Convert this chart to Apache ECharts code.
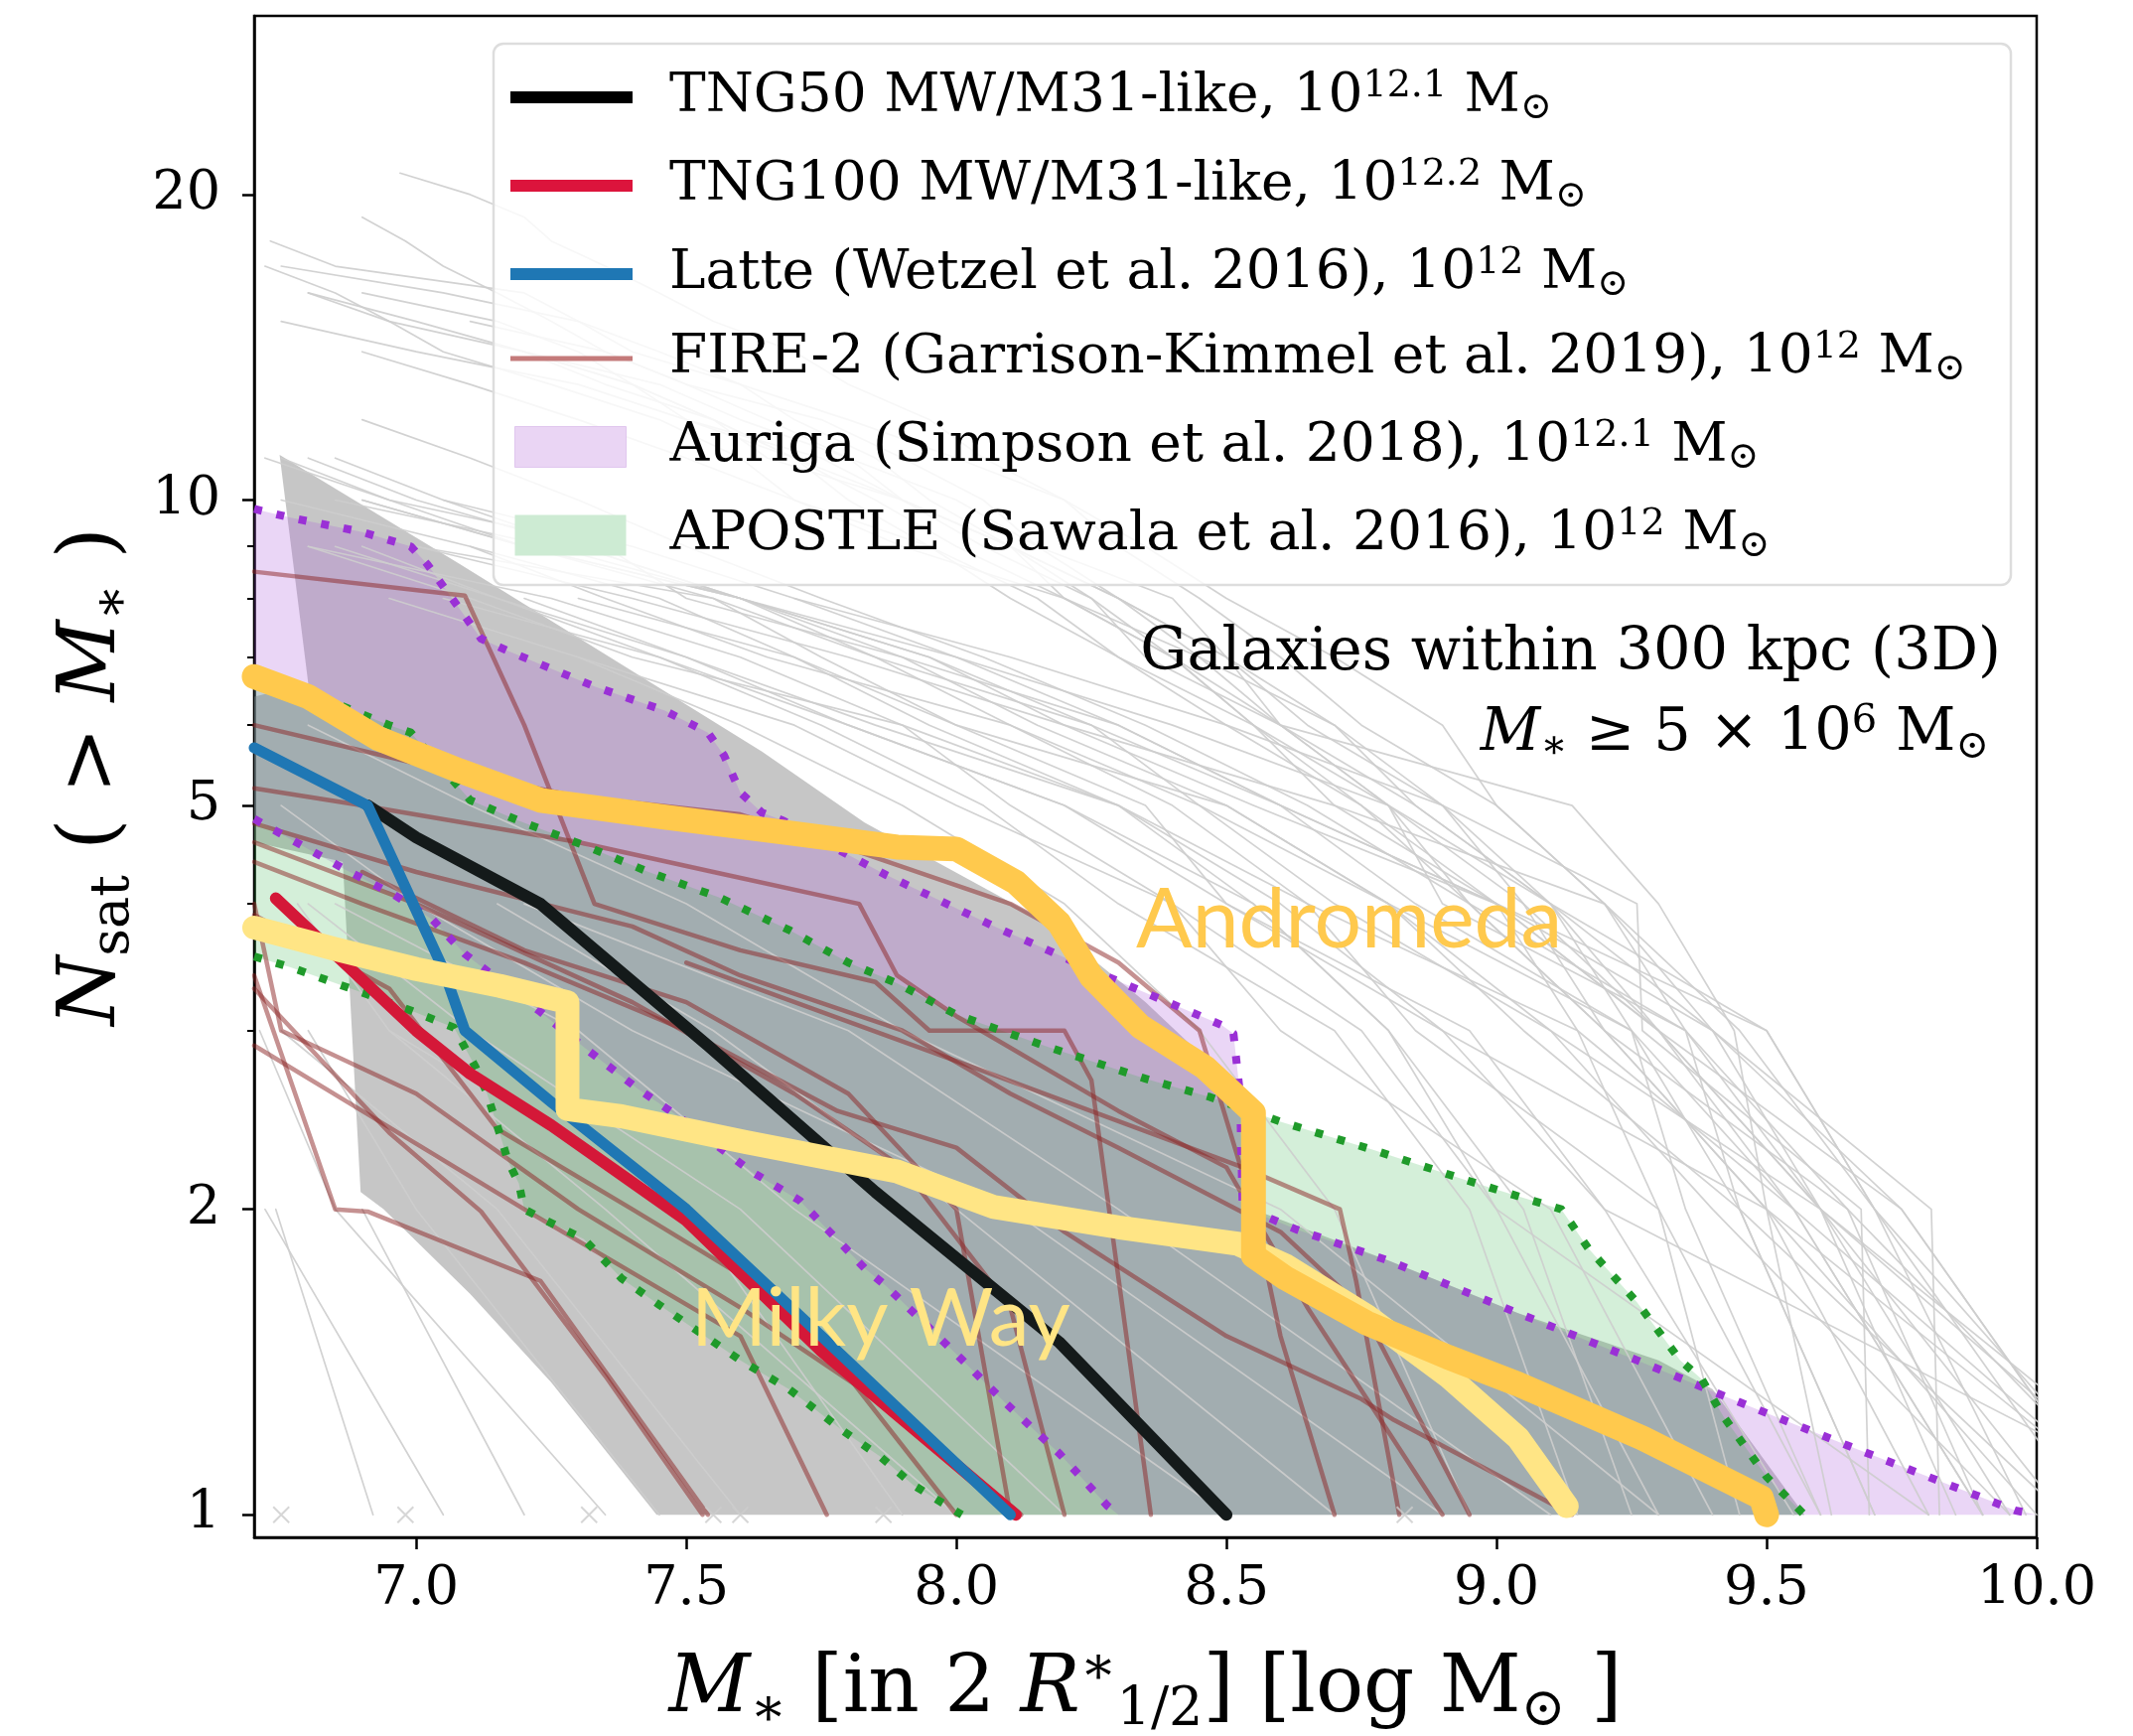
<!DOCTYPE html>
<html><head><meta charset="utf-8">
<script src="https://cdn.jsdelivr.net/npm/echarts@6/dist/echarts.min.js"></script>
<style>html,body{margin:0;padding:0;background:#fff}#c{width:2148px;height:1748px}</style>
</head><body><div id="c"></div>
<script>
// ---------------- DATA (x = log stellar mass, N = cumulative number) ----------------
const xTicks = [7.0, 7.5, 8.0, 8.5, 9.0, 9.5, 10.0];
const yTicks = [1, 2, 5, 10, 20];
const yMinorTicks = [3, 4, 6, 7, 8, 9];

const tng50Median  = [[6.91,5.0],[7.0,4.65],[7.23,4.0],[7.54,2.9],[7.85,2.08],[8.19,1.48],[8.5,1.0]];
const tng100Median = [[6.74,4.05],[7.0,3.0],[7.1,2.72],[7.25,2.42],[7.5,1.95],[7.75,1.45],[8.11,1.0]];
const latteMedian  = [[6.7,5.7],[6.91,5.0],[7.05,3.45],[7.09,3.0],[7.25,2.55],[7.5,2.0],[7.75,1.5],[8.1,1.0]];

const tng50BandUpper = [[6.747,11.08],[7.08,8.65],[7.64,5.65],[7.83,4.81],[8.17,3.83],[8.35,3.2],[8.52,2.63],[8.55,2.0],[8.8,1.78],[9.04,1.58],[9.3,1.42],[9.4,1.33],[9.57,1.0]];
const tng50BandLower = [[6.747,11.08],[6.8,6.6],[6.7,6.4],[6.7,4.6],[6.864,4.4],[6.897,2.08],[6.94,2.0],[7.1,1.65],[7.25,1.35],[7.445,1.0]];

const aurigaUpper = [[6.7,9.8],[6.77,9.6],[6.9,9.3],[6.99,9.0],[7.02,8.65],[7.07,7.95],[7.12,7.3],[7.17,7.1],[7.33,6.55],[7.46,6.2],[7.54,5.9],[7.57,5.6],[7.6,5.15],[7.64,4.92],[7.68,4.83],[7.87,4.27],[8.07,3.8],[8.28,3.39],[8.49,3.04],[8.513,2.98],[8.525,2.6],[8.53,2.0],[8.58,1.96],[8.63,1.91],[8.8,1.78],[9.04,1.58],[9.26,1.42],[9.42,1.31],[9.65,1.17],[9.96,1.01],[10.0,1.0]];
const aurigaLower = [[6.7,4.85],[6.8,4.53],[6.87,4.32],[6.96,4.08],[7.03,3.86],[7.09,3.57],[7.23,3.13],[7.31,2.89],[7.41,2.63],[7.48,2.48],[7.62,2.18],[7.71,2.04],[7.83,1.75],[7.87,1.68],[8.0,1.44],[8.09,1.29],[8.19,1.15],[8.28,1.02],[8.3,1.0]];

const apostleUpper = [[6.7,6.6],[6.81,6.43],[6.95,6.0],[6.99,5.9],[7.1,5.06],[7.19,4.83],[7.31,4.57],[7.43,4.3],[7.56,4.06],[7.69,3.77],[7.8,3.5],[7.89,3.34],[8.0,3.11],[8.17,2.89],[8.35,2.69],[8.47,2.58],[8.6,2.44],[8.77,2.29],[8.94,2.14],[9.04,2.06],[9.12,2.0],[9.17,1.83],[9.26,1.62],[9.34,1.42],[9.38,1.36],[9.42,1.25],[9.5,1.09],[9.57,1.0]];
const apostleLower = [[6.7,3.55],[6.77,3.46],[6.9,3.27],[6.99,3.14],[7.07,3.02],[7.11,2.76],[7.13,2.61],[7.155,2.37],[7.17,2.23],[7.19,2.12],[7.2,2.0],[7.24,1.95],[7.31,1.87],[7.38,1.71],[7.45,1.61],[7.6,1.42],[7.69,1.33],[7.79,1.21],[7.86,1.14],[7.92,1.07],[8.01,1.0]];

const andromedaObs = [[6.7,6.7],[6.8,6.4],[6.93,5.82],[7.08,5.41],[7.23,5.06],[7.46,4.87],[7.69,4.7],[7.89,4.55],[8.0,4.53],[8.11,4.2],[8.19,3.83],[8.25,3.39],[8.34,3.03],[8.46,2.76],[8.55,2.49],[8.55,1.8],[8.61,1.71],[8.76,1.545],[8.91,1.43],[9.04,1.345],[9.27,1.19],[9.49,1.04],[9.5,1.0]];
const milkyWayObs = [[6.7,3.79],[6.85,3.61],[7.0,3.45],[7.155,3.32],[7.28,3.2],[7.28,2.51],[7.38,2.47],[7.61,2.33],[7.89,2.18],[8.07,2.01],[8.3,1.92],[8.52,1.85],[8.61,1.76],[8.76,1.57],[8.91,1.37],[9.04,1.19],[9.13,1.02]];

// each TNG50 host: satellite masses, most massive first (N = rank)
const tng50HostSatMasses = [
  [10.2,9.7,9.45,9.2,9.0,8.75,8.6,8.45,8.3,8.2,8.05,7.95,7.8,7.7,7.55,7.45,7.35,7.25,7.2,7.1,6.97],
  [9.9,9.55,9.3,9.05,8.8,8.6,8.5,8.3,8.1,7.95,7.85,7.7,7.6,7.45,7.3,7.2,6.85,6.73],
  [10.3,9.6,9.35,9.2,9.0,8.9,8.7,8.5,8.35,8.2,8.0,7.8,7.6,7.4,7.3,7.05,6.75],
  [9.8,9.5,9.2,8.95,8.8,8.55,8.4,8.2,8.0,7.85,7.7,7.55,7.4,7.3,7.15,6.9],
  [10.15,9.75,9.3,9.1,8.85,8.7,8.45,8.3,8.15,8.05,7.9,7.75,7.5,7.35,7.1],
  [9.6,9.3,9.15,9.0,8.7,8.55,8.4,8.25,8.1,7.9,7.7,7.55,7.35,7.2,7.0,6.8],
  [10.05,9.45,9.35,8.9,8.8,8.6,8.35,8.25,8.05,7.9,7.8,7.6,7.45,7.2],
  [9.95,9.6,9.4,9.1,8.9,8.65,8.5,8.3,8.1,7.9,7.75,7.5,7.3,7.0,6.75],
  [10.1,9.7,9.5,9.0,8.75,8.5,8.3,8.15,7.95,7.8,7.7,7.5,7.4,7.2,6.95,6.8],
  [9.7,9.45,9.25,9.1,8.85,8.6,8.45,8.2,8.1,7.9,7.65,7.55,7.4,7.2],
  [10.2,9.5,9.2,8.95,8.75,8.55,8.3,8.1,7.95,7.7,7.6,7.45,7.25,7.05,6.95,6.85,6.72],
  [9.9,9.65,9.2,9.05,8.9,8.7,8.5,8.4,8.15,8.0,7.8,7.65,7.5,7.35,7.25,7.15,7.05,6.98,6.9],
  [9.62,9.5,9.44,9.3,9.14,8.6,8.4,8.2,7.9,7.7,7.5,7.3,7.1,6.9],
  [10.05,9.6,9.3,9.0,8.6,8.3,8.0,7.6,7.3,7.0,6.8],
  [9.45,9.3,8.85,8.65,8.4,8.1,7.85,7.55,7.2,6.9],
  [10.3,9.2,8.9,8.5,8.35,8.0,7.7,7.45,7.1],
  [9.85,9.6,9.1,8.8,8.5,8.15,7.9,7.5,7.35,6.95,6.75],
  [9.55,9.2,8.95,8.5,8.2,7.8,7.5,7.2],
  [10.15,9.75,9.4,9.2,8.7,8.2,7.95,7.6,7.25,6.85],
  [9.3,9.0,8.75,8.4,8.1,7.9,7.4,7.1,6.8],
  [10.0,9.5,8.9,8.6,8.3,7.95,7.7,7.3],
  [9.7,9.45,9.05,8.8,8.45,8.25,7.85,7.6,7.3,7.05,6.85],
  [10.25,9.6,9.3,9.0,8.55,8.2,7.8,7.4,7.0],
  [9.15,8.95,8.7,8.3,8.05,7.75,7.45,7.15,6.9],
  [9.95,9.4,9.1,8.7,8.45,8.1,7.65,7.35,7.1,6.75],
  [9.4,9.1,8.6,8.4,8.0,7.7,7.3,6.95],
  [10.2,9.65,9.35,8.95,8.65,8.35,8.05,7.75,7.5,7.3,7.1,6.9],
  [9.6,9.35,9.25,8.8,8.5,8.0,7.75,7.55,7.0],
  [9.8,9.0,8.8,8.55,8.3,7.9,7.6,7.25,6.8],
  [10.2,9.55,9.25,8.85,8.6,8.25,7.95,7.6,7.2,6.95,6.72],
  [9.25,9.05,8.8,8.55,8.2,7.8,7.45,7.05],
  [9.9,9.55,9.15,8.65,8.3,7.85,7.5,7.15,6.85],
  [8.95,8.7,8.45,8.2,7.9,7.6,7.3],
  [9.69,9.675,9.27,9.26,8.9,8.5,8.1,7.7,7.4,7.05],
  [9.82,9.805,9.4,9.0,8.6,8.3,7.9,7.6,7.2,6.9],
  [9.98,9.7,9.5,9.1,8.8,8.4,8.0,7.7],
  [8.2,7.6,7.1,6.8],
  [7.9,7.5,6.95],
  [8.9,8.1,7.4,7.0,6.75],
  [7.45,7.0,6.8],
  [9.1,8.3,7.8,7.2],
  [7.2,6.9],
  [8.5,7.7,7.3,6.85],
  [7.6,7.15,6.75],
  [9.3,8.6,7.9,7.5,7.1,6.8],
  [7.05,6.72],
  [8.0,7.35,6.95,6.78],
  [8.7,8.0,7.55,7.15],
  [7.35,6.85,6.71],
  [6.92,6.74]
];
const tng50SingleSatMasses = [6.75, 6.98, 7.32, 7.55, 7.6, 7.865, 8.83];

const fire2Curves = [
  [[6.7,8.5],[7.09,8.05],[7.2,6.0],[7.33,4.0],[7.6,3.6],[7.85,3.35],[7.95,3.0],[8.2,3.0],[8.25,2.68],[8.36,1.0]],
  [[6.7,5.2],[6.9,5.0],[7.3,4.6],[7.55,4.3],[7.82,4.0],[7.89,3.4],[8.0,3.1],[8.3,2.5],[8.5,2.2],[8.65,1.6],[8.9,1.0]],
  [[6.7,4.8],[7.0,4.3],[7.4,3.8],[7.6,3.4],[7.9,3.0],[8.1,2.6],[8.3,2.3],[8.6,1.9],[8.75,1.6],[8.95,1.0]],
  [[6.7,4.4],[6.9,4.0],[7.2,3.5],[7.5,3.0],[7.78,2.5],[8.0,2.3],[8.2,1.9],[8.5,1.5],[8.75,1.3],[8.81,1.24],[9.14,1.0]],
  [[6.7,3.4],[6.85,2.0],[6.91,1.99],[7.23,1.7],[7.54,1.0]],
  [[6.7,3.3],[6.95,2.38],[7.12,1.99],[7.35,1.37],[7.53,1.0]],
  [[6.7,4.0],[6.75,3.0],[7.0,2.6],[7.3,2.0],[7.6,1.6],[7.9,1.25],[8.12,1.0]],
  [[6.7,2.9],[6.9,2.5],[7.2,2.0],[7.6,1.5],[7.76,1.0]],
  [[6.7,4.6],[7.0,4.0],[7.4,3.2],[7.7,2.6],[7.9,2.2],[8.1,1.6],[8.2,1.0]],
  [[6.7,6.0],[7.0,5.5],[7.3,5.1],[7.6,4.9],[7.82,4.5],[8.1,4.0],[8.3,3.5],[8.45,3.0],[8.55,2.0],[8.6,1.5],[8.7,1.0]],
  [[6.9,4.3],[7.2,3.6],[7.5,3.2],[7.8,2.6],[8.0,2.0],[8.1,1.0]],
  [[6.7,3.9],[6.95,3.3],[7.15,2.4],[7.4,2.0],[7.7,1.6],[8.0,1.0]],
  [[7.5,3.5],[8.0,2.8],[8.53,2.2],[8.71,2.0],[8.74,1.7],[8.82,1.0]]
];

// ---------------- BUILD ----------------
const lg = v => Math.log10(v);
const toXY = pts => pts.map(p => [p[0], lg(p[1])]);
const SERIF = 'DejaVu Serif';

function lineSeries(name, pts, color, width, z, lineType) {
  return {
    type: 'line', name: name, data: toXY(pts), showSymbol: false, symbol: 'none', z: z,
    lineStyle: { color: color, width: width, cap: lineType ? 'butt' : 'round', join: 'round', type: lineType || 'solid' },
    itemStyle: { color: color }, silent: true, animation: false, clip: true
  };
}
function polySeries(name, upper, lower, fill, z) {
  const pts = upper.concat(lower.slice().reverse());
  return {
    type: 'custom', name: name, z: z, silent: true, animation: false, clip: true,
    coordinateSystem: 'cartesian2d', itemStyle: { color: fill },
    data: [[pts[0][0], lg(pts[0][1])]],
    renderItem: function (params, api) {
      return { type: 'polygon', shape: { points: pts.map(p => api.coord([p[0], lg(p[1])])) }, style: { fill: fill } };
    }
  };
}

const series = [];
series.push(polySeries('TNG50band', tng50BandUpper, tng50BandLower, 'rgba(128,128,128,0.45)', 1));
series.push(polySeries('Auriga', aurigaUpper, aurigaLower, 'rgba(170,90,220,0.25)', 1));
series.push(polySeries('APOSTLE', apostleUpper, apostleLower, 'rgba(60,180,80,0.22)', 1));

tng50HostSatMasses.forEach((masses, i) => {
  series.push(lineSeries('host' + i, masses.map((m, k) => [m, k + 1]), 'rgba(205,205,205,0.9)', 1.7, 2));
});
series.push({
  type: 'scatter', name: 'single', z: 2, silent: true, animation: false,
  data: tng50SingleSatMasses.map(m => [m, lg(1)]),
  symbol: 'path://M0,0L10,10M10,0L0,10', symbolSize: 16,
  itemStyle: { color: 'none', borderColor: '#cccccc', borderWidth: 2 }
});
fire2Curves.forEach(c => series.push(lineSeries('FIRE-2', c, 'rgba(140,35,35,0.5)', 4.5, 2)));

series.push(lineSeries('AurigaU', aurigaUpper, '#9a30d6', 8, 2, [8, 15]));
series.push(lineSeries('AurigaL', aurigaLower, '#9a30d6', 8, 2, [8, 15]));
series.push(lineSeries('ApostleU', apostleUpper, '#1f9a2a', 8, 2, [8, 15]));
series.push(lineSeries('ApostleL', apostleLower, '#1f9a2a', 8, 2, [8, 15]));

series.push(lineSeries('TNG50', tng50Median, '#141a1a', 12, 2));
series.push(lineSeries('TNG100', tng100Median, '#d41838', 12, 2));
series.push(lineSeries('Latte', latteMedian, '#1f77b4', 11, 2));

series.push(lineSeries('MilkyWayObs', milkyWayObs, '#FFE585', 24, 2));
series.push(lineSeries('AndromedaObs', andromedaObs, '#FFC94D', 25, 2));

const supSub = {
  sup: { fontSize: 38, fontFamily: SERIF, lineHeight: 24, verticalAlign: 'top', color: '#000' },
  sub: { fontSize: 38, fontFamily: SERIF, lineHeight: 34, verticalAlign: 'bottom', color: '#000' }
};
const legendText = {
  'TNG50': 'TNG50 MW/M31-like, 10{sup|12.1} M{sub|⊙}',
  'TNG100': 'TNG100 MW/M31-like, 10{sup|12.2} M{sub|⊙}',
  'Latte': 'Latte (Wetzel et al. 2016), 10{sup|12} M{sub|⊙}',
  'FIRE-2': 'FIRE-2 (Garrison-Kimmel et al. 2019), 10{sup|12} M{sub|⊙}',
  'Auriga': 'Auriga (Simpson et al. 2018), 10{sup|12.1} M{sub|⊙}',
  'APOSTLE': 'APOSTLE (Sawala et al. 2016), 10{sup|12} M{sub|⊙}'
};
function legendBase(top, left, iw, ih, gap, padLeft, data) {
  return {
    orient: 'vertical', left: left, top: top, padding: 0, itemGap: gap,
    itemWidth: iw, itemHeight: ih, icon: 'rect', selectedMode: false, z: 4,
    data: data,
    formatter: n => legendText[n],
    textStyle: { fontSize: 55, fontFamily: SERIF, color: '#000', lineHeight: 60, padding: [0, 0, 0, padLeft], rich: supSub }
  };
}

const axisFont = { fontSize: 80, fontFamily: SERIF, color: '#000', lineHeight: 96 };
const axisRich = {
  i: { fontSize: 80, fontFamily: SERIF, fontStyle: 'italic', lineHeight: 96, color: '#000' },
  s: { fontSize: 54, fontFamily: SERIF, lineHeight: 54, verticalAlign: 'bottom', color: '#000' },
  p: { fontSize: 54, fontFamily: SERIF, lineHeight: 46, verticalAlign: 'top', color: '#000' }
};

const option = {
  backgroundColor: '#ffffff',
  animation: false,
  grid: { left: 256, right: 97, top: 16, bottom: 200, show: true, borderColor: '#000', borderWidth: 2.5,
          backgroundColor: 'transparent', containLabel: false, outerBoundsMode: 'none' },
  xAxis: {
    type: 'value', min: 6.7, max: 10.0,
    axisLine: { show: true, onZero: false, lineStyle: { color: '#000', width: 2.5 } },
    axisTick: { show: true, customValues: xTicks, length: 12, lineStyle: { color: '#000', width: 2.5 } },
    axisLabel: { customValues: xTicks, formatter: v => v.toFixed(1), fontSize: 54, fontFamily: SERIF, color: '#000', margin: 26 },
    splitLine: { show: false },
    name: '{i|M}{s|∗} [in 2 {i|R}{p|∗}{s|1/2}] [log M{s|⊙} ]',
    nameLocation: 'middle', nameGap: 106,
    nameTextStyle: Object.assign({ rich: axisRich }, axisFont)
  },
  yAxis: [{
    type: 'value', min: lg(0.95), max: lg(30),
    axisLine: { show: true, onZero: false, lineStyle: { color: '#000', width: 2.5 } },
    axisTick: { show: true, customValues: yTicks.map(lg), length: 12, lineStyle: { color: '#000', width: 2.5 } },
    axisLabel: { customValues: yTicks.map(lg), formatter: v => String(Math.round(Math.pow(10, v))), fontSize: 54, fontFamily: SERIF, color: '#000', margin: 34 },
    splitLine: { show: false },
    name: '{i|N}{s|sat} ( > {i|M}{s|∗} )',
    nameLocation: 'middle', nameGap: 108,
    nameTextStyle: Object.assign({ rich: axisRich }, axisFont)
  }, {
    type: 'value', min: lg(0.95), max: lg(30), position: 'left',
    axisLine: { show: false },
    axisTick: { show: true, customValues: yMinorTicks.map(lg), length: 7, lineStyle: { color: '#000', width: 2 } },
    axisLabel: { show: false }, splitLine: { show: false }
  }],
  legend: [
    legendBase(68, 514, 123, 12, 29, 32, [
      { name: 'TNG50', itemStyle: { color: '#000000' } },
      { name: 'TNG100', itemStyle: { color: '#dc143c' } },
      { name: 'Latte', itemStyle: { color: '#1f77b4' } }]),
    legendBase(331, 514, 123, 5, 28, 32, [{ name: 'FIRE-2', itemStyle: { color: '#c47a7a' } }]),
    legendBase(420, 518, 112, 41, 29, 39, [
      { name: 'Auriga', itemStyle: { color: '#ead5f4', borderColor: '#e0c6ee', borderWidth: 1 } },
      { name: 'APOSTLE', itemStyle: { color: '#cdebd3' } }])
  ],
  graphic: [
    { type: 'rect', z: 3, silent: true, shape: { x: 497, y: 44, width: 1528, height: 545, r: 10 },
      style: { fill: 'rgba(255,255,255,0.82)', stroke: '#dddddd', lineWidth: 2.5 } },
    { type: 'text', z: 10, silent: true, x: 2015, y: 659,
      style: { text: 'Galaxies within 300 kpc (3D)', fontSize: 59, fontFamily: SERIF, fill: '#000', align: 'right', verticalAlign: 'middle' } },
    { type: 'text', z: 10, silent: true, x: 2003, y: 740,
      style: { text: '{i|M}{s|∗} ≥ 5 × 10{p|6} M{s|⊙}', fontSize: 59, fontFamily: SERIF, fill: '#000', align: 'right', verticalAlign: 'middle', lineHeight: 66,
        rich: {
          i: { fontSize: 59, fontFamily: SERIF, fontStyle: 'italic', fill: '#000', lineHeight: 66 },
          s: { fontSize: 40, fontFamily: SERIF, fill: '#000', lineHeight: 36, verticalAlign: 'bottom' },
          p: { fontSize: 40, fontFamily: SERIF, fill: '#000', lineHeight: 26, verticalAlign: 'top' }
        } } },
    { type: 'text', z: 10, silent: true, x: 1144, y: 927,
      style: { text: 'Andromeda', fontSize: 84, fontFamily: 'Lato', fill: '#FFC94D', align: 'left', verticalAlign: 'middle' } },
    { type: 'text', z: 10, silent: true, x: 696, y: 1329,
      style: { text: 'Milky Way', fontSize: 82, fontFamily: 'Lato', fill: '#FFE585', align: 'left', verticalAlign: 'middle' } }
  ],
  series: series
};

const chart = echarts.init(document.getElementById('c'), null, { renderer: 'canvas' });
chart.setOption(option);
</script></body></html>
